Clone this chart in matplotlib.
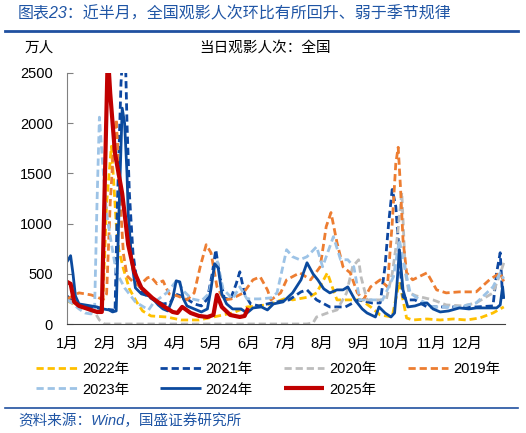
import matplotlib.pyplot as plt
from matplotlib.lines import Line2D

plt.rcParams['font.family'] = ['Liberation Sans', 'Noto Sans CJK SC']
plt.rcParams['axes.unicode_minus'] = False

# day of year (0 = Jan 1) and daily audience (10k people)
days_2022 = [0, 4, 10, 16, 22, 27, 30, 33, 37, 39, 41, 43, 47, 52, 58, 63, 70, 83, 95, 110, 122, 138, 150,
             160, 170, 183, 188, 202, 208, 217, 221, 225, 236, 245, 253, 261, 271, 275, 277, 283, 288, 300,
             311, 322, 333, 344, 355, 364]
vals_2022 = [230, 210, 170, 160, 130, 120, 250, 1200, 1770, 1400, 1000, 750, 550, 350, 220, 130, 80, 70, 40, 40,
             70, 110, 170, 180, 200, 260, 240, 270, 310, 510, 370, 240, 240, 240, 170, 90, 70, 310, 420, 60, 40,
             50, 40, 50, 40, 60, 110, 170]

days_2021 = [0, 5, 10, 20, 30, 38, 40, 42, 45, 48, 50, 52, 55, 58, 62, 72, 80, 86, 90, 95, 100, 106, 112, 117,
             121, 124, 127, 131, 136, 141, 144, 148, 153, 160, 167, 175, 185, 195, 200, 208, 219, 232, 243, 254,
             261, 265, 268, 271, 274, 276, 278, 280, 284, 290, 300, 316, 327, 341, 355, 358, 361, 363]
vals_2021 = [280, 220, 190, 170, 150, 140, 120, 1200, 2400, 3000, 2000, 1300, 700, 450, 320, 240, 200, 210, 300,
             280, 250, 200, 180, 250, 500, 740, 500, 260, 240, 400, 520, 300, 200, 180, 200, 220, 240, 320, 340,
             240, 170, 170, 240, 210, 210, 570, 1000, 1340, 1170, 840, 510, 270, 240, 240, 170, 170, 170, 170,
             180, 510, 710, 270]

days_2020 = [0, 5, 10, 15, 20, 24, 27, 31, 200, 205, 208, 217, 225, 233, 238, 243, 245, 250, 258, 266, 271, 275,
             279, 282, 285, 291, 305, 316, 330, 341, 355, 361, 364]
vals_2020 = [240, 220, 180, 160, 130, 100, 40, 0, 0, 10, 70, 110, 140, 310, 570, 640, 470, 240, 240, 240, 500,
             840, 1310, 510, 310, 280, 240, 190, 180, 210, 310, 500, 610]

days_2019 = [0, 5, 10, 15, 20, 25, 30, 33, 36, 39, 41, 43, 45, 47, 50, 55, 60, 67, 70, 75, 80, 85, 92, 100, 106,
             111, 116, 120, 125, 131, 137, 147, 155, 161, 167, 170, 178, 183, 194, 203, 211, 216, 220, 225, 230,
             236, 242, 247, 253, 261, 267, 271, 274, 276, 278, 280, 283, 288, 300, 308, 316, 327, 341, 352, 361,
             364]
vals_2019 = [250, 280, 310, 300, 290, 270, 240, 300, 1200, 1800, 2040, 1600, 1100, 700, 480, 420, 380, 460, 470,
             400, 430, 300, 280, 240, 310, 570, 790, 710, 370, 240, 250, 310, 440, 470, 340, 240, 310, 440, 510,
             440, 570, 970, 1110, 810, 570, 510, 310, 240, 370, 440, 370, 1000, 1600, 1760, 1340, 840, 510, 440,
             510, 340, 310, 320, 320, 440, 510, 420]

days_2023 = [0, 5, 10, 15, 20, 23, 25, 27, 30, 33, 37, 41, 48, 57, 68, 72, 83, 92, 97, 104, 112, 118, 125,
             130, 138, 144, 150, 160, 170, 175, 183, 188, 194, 200, 208, 213, 222, 228, 234, 239, 244, 255, 263,
             272, 277, 280, 286, 294, 305, 316, 327, 341, 355, 361, 364]
vals_2023 = [240, 200, 150, 110, 100, 150, 1200, 2060, 1550, 1100, 800, 520, 360, 220, 140, 210, 310, 440,
             330, 250, 230, 300, 640, 350, 250, 370, 250, 250, 260, 310, 740, 670, 640, 670, 770, 570, 870, 640,
             640, 570, 240, 240, 240, 470, 840, 640, 310, 240, 170, 170, 170, 210, 370, 510, 450]

days_2024 = [0, 3, 5, 7, 10, 15, 20, 25, 30, 35, 38, 41, 43, 46, 48, 50, 51, 54, 57, 62, 68, 71, 76, 80, 84, 88,
             91, 94, 97, 100, 106, 112, 117, 120, 123, 126, 129, 133, 138, 145, 150, 155, 162, 167, 172, 180,
             188, 195, 200, 205, 209, 214, 219, 225, 230, 234, 240, 246, 250, 257, 260, 265, 270, 273, 275, 277,
             280, 284, 290, 295, 300, 305, 311, 318, 327, 335, 341, 350, 358, 361, 363, 364]
vals_2024 = [620, 680, 500, 280, 200, 190, 180, 170, 150, 140, 120, 130, 1000, 2150, 2000, 1500, 1100, 620, 360,
             300, 280, 260, 190, 150, 130, 250, 430, 420, 250, 180, 150, 120, 150, 350, 600, 560, 300, 200, 150,
             150, 110, 160, 170, 140, 200, 220, 310, 440, 610, 500, 440, 350, 310, 340, 340, 370, 240, 150, 110,
             70, 170, 110, 70, 110, 400, 740, 340, 170, 180, 200, 210, 150, 120, 130, 160, 150, 160, 160, 160,
             190, 370, 250]

days_2025 = [0, 3, 6, 10, 15, 20, 25, 29, 34, 36, 40, 43, 46, 48, 51, 56, 62, 71, 79, 88, 92, 96, 103, 110,
             117, 122, 125, 129, 136, 144, 148, 151]
vals_2025 = [420, 400, 220, 180, 160, 140, 120, 120, 2700, 2300, 1700, 1500, 1300, 1100, 790, 520, 360, 260,
             190, 120, 110, 170, 110, 80, 70, 90, 290, 170, 90, 70, 80, 160]

month_starts = [0, 31, 59, 90, 120, 151, 181, 212, 243, 273, 304, 334]
month_labels = ['1月', '2月', '3月', '4月', '5月', '6月', '7月', '8月', '9月', '10月', '11月', '12月']

dash = (0, (2.6, 1.4))
series = [
    ('2022年', days_2022, vals_2022, '#FFC000', dash, 2.0),
    ('2021年', days_2021, vals_2021, '#0D47A1', dash, 2.0),
    ('2020年', days_2020, vals_2020, '#BDBDBD', dash, 2.0),
    ('2019年', days_2019, vals_2019, '#ED7D31', dash, 2.0),
    ('2023年', days_2023, vals_2023, '#9DC3E6', dash, 2.0),
    ('2024年', days_2024, vals_2024, '#0B4A9E', '-', 2.0),
    ('2025年', days_2025, vals_2025, '#C00000', '-', 3.0),
]

fig = plt.figure(figsize=(5.26, 4.33), dpi=100)
ax = fig.add_axes([67 / 526, 1 - 324 / 433, 438 / 526, 251 / 433])

handles = {}
for name, d, v, c, ls, lw in series:
    ln, = ax.plot(d, v, color=c, linestyle=ls, linewidth=lw, solid_capstyle='butt')
    handles[name] = ln

ax.set_xlim(0, 365)
ax.set_ylim(0, 2500)
ax.set_yticks(range(0, 2501, 500))
ax.set_xticks(month_starts)
ax.set_xticklabels(month_labels)
ax.tick_params(axis='x', length=0, pad=9, labelsize=10.5)
ax.tick_params(axis='y', direction='in', length=4, color='#808080', pad=10, labelsize=10.5)
for s in ['top', 'right']:
    ax.spines[s].set_visible(False)
ax.spines['left'].set_color('#808080')
ax.spines['bottom'].set_color('#404040')

blue = '#1F55A5'
fig.text(18 / 526, 1 - 14 / 433, '图表23：近半月，全国观影人次环比有所回升、弱于季节规律',
         color=blue, fontsize=11.5, style='italic', va='center', ha='left')
fig.add_artist(Line2D([5 / 526, 518 / 526], [1 - 31 / 433, 1 - 31 / 433], color='#2050A0', lw=2))
fig.text(25 / 526, 1 - 48 / 433, '万人', fontsize=10.5, va='center', ha='left')
fig.text(265 / 526, 1 - 48 / 433, '当日观影人次：全国', fontsize=10.5, va='center', ha='center')

order = ['2022年', '2023年', '2021年', '2024年', '2020年', '2025年', '2019年']
fig.legend([handles[k] for k in order], order, loc='upper left', bbox_to_anchor=(36 / 526, 1 - 362 / 433),
           ncol=4, frameon=False, fontsize=10.5, handlelength=2.8, handletextpad=0.35,
           columnspacing=2.1, labelspacing=0.45, borderpad=0, borderaxespad=0)

fig.add_artist(Line2D([5 / 526, 518 / 526], [1 - 408 / 433, 1 - 408 / 433], color='#2050A0', lw=1.2))
fig.text(18 / 526, 1 - 421 / 433, '资料来源：Wind，国盛证券研究所', color=blue, fontsize=10.5,
         style='italic', va='center', ha='left')

fig.savefig('out.png', dpi=100)
